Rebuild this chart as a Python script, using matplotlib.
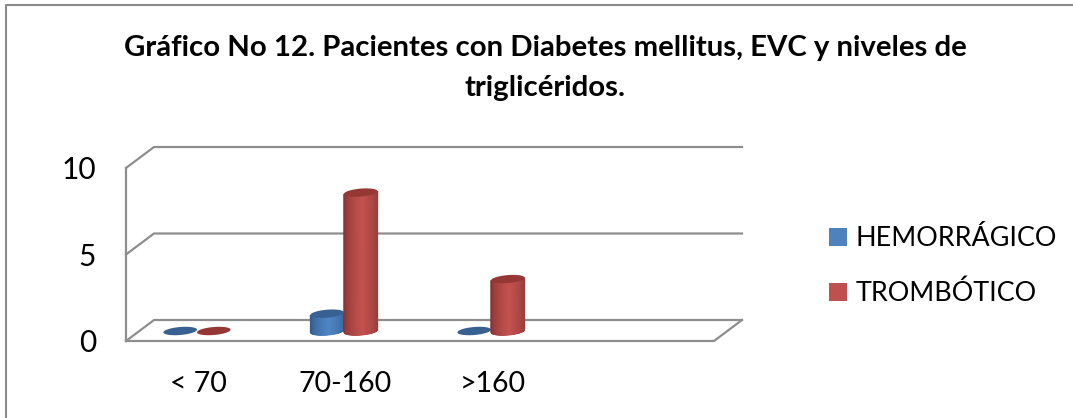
import numpy as np
import matplotlib
matplotlib.use("Agg")
import matplotlib.pyplot as plt
from matplotlib.colors import LinearSegmentedColormap
from matplotlib.patches import Rectangle

categories = ["< 70", "70-160", ">160"]
hemorragico = [0, 1, 0]
trombotico = [0, 8, 3]
n_slots = 4
y_ticks = [0, 5, 10]

title_lines = ["Gráfico No 12. Pacientes con Diabetes mellitus, EVC y niveles de", "triglicéridos."]

W, H = 1073, 418
plt.rcParams['font.family'] = ['Lato', 'DejaVu Sans']

grid_col = "#8e8e8e"
blue = "#4f86c6"
red = "#c4524f"
blue_dark, blue_cap = "#2d5480", "#386192"
red_dark, red_cap = "#7a302e", "#953735"

fig = plt.figure(figsize=(W / 100, H / 100), dpi=100)
fig.patch.set_facecolor("white")

# front plane of the 3d box, one slot per category
left, right, bottom, top = 126, 714, 341, 168
ax = fig.add_axes([left / W, 1 - bottom / H, (right - left) / W, (bottom - top) / H])
ax.set_xlim(0, n_slots)
ax.set_ylim(0, 10)
ax.axis("off")

px_x = n_slots / (right - left)
px_y = 10 / (bottom - top)
depth_x = 28 * px_x
depth_y = 21 * px_y


def line(xs, ys, lw=1.6):
    ax.plot(xs, ys, color=grid_col, lw=lw, clip_on=False, solid_capstyle="projecting", zorder=1)


# gridlines on back wall plus the side wall diagonals
for v in y_ticks:
    line([0, depth_x, n_slots + depth_x], [v, v + depth_y, v + depth_y])
line([0, 0], [0, 10])
line([0, n_slots, n_slots + depth_x], [0, 0, depth_y])

for v in y_ticks:
    ax.text(-30 * px_x, v - 11 * px_y, str(v), ha="right", va="baseline", fontsize=21.5,
            color="black", clip_on=False)

for i, c in enumerate(categories):
    ax.text(i + 0.5 - 1 * px_x, -51 * px_y, c, ha="center", va="baseline", fontsize=20.5, color="black", clip_on=False)

# cylinders
a = 16.8 * px_x
b = 4.0 * px_y
tilt = 0.08 * (px_y / px_x)
base = 10.0 * px_y
shift = -2.5 * px_x


def ellipse(cx, cy):
    t = np.linspace(0, 2 * np.pi, 80)
    ex = a * np.cos(t)
    return cx + ex, cy + b * np.sin(t) + tilt * ex


def cylinder(cx, value, col, dark, cap):
    y0 = base
    y1 = base + value
    ex, ey = ellipse(cx, y0)
    if value == 0:
        ax.fill(ex, ey, color=cap, lw=0, zorder=3, clip_on=False)
        return
    # side of the cylinder, dark at the edges and lit near the middle
    u = np.linspace(-1, 1, 61)
    low = -b * np.sqrt(1 - u ** 2) + tilt * a * u
    X = np.vstack([cx + a * u, cx + a * u])
    Y = np.vstack([y0 + low, y1 + low])
    w = np.clip(1 - np.abs(u - 0.1) / 1.1, 0, 1) ** 0.5
    cmap = LinearSegmentedColormap.from_list("side", [dark, col])
    ax.pcolormesh(X, Y, np.vstack([w, w]), cmap=cmap, vmin=0, vmax=1, shading="gouraud",
                  zorder=3, clip_on=False)
    tx, ty = ellipse(cx, y1)
    ax.fill(tx, ty, color=cap, lw=0, zorder=4, clip_on=False)


for i in range(len(categories)):
    cylinder(i + 0.5 + shift - a, hemorragico[i], blue, blue_dark, blue_cap)
    cylinder(i + 0.5 + shift + a, trombotico[i], red, red_dark, red_cap)
ax.set_xlim(0, n_slots)
ax.set_ylim(0, 10)

# legend
legend_names = ["HEMORRÁGICO", "TROMBÓTICO"]
legend_cols = ["#4f81bd", "#c0504d"]
for name, col, y in zip(legend_names, legend_cols, [246, 301]):
    fig.add_artist(Rectangle((829 / W, 1 - y / H), 18 / W, 18 / H, color=col, lw=0, transform=fig.transFigure))
    fig.text(856 / W, 1 - y / H, name, ha="left", va="baseline", fontsize=19.4, color="black")

for txt, y in zip(title_lines, [56, 96]):
    fig.text(545 / W, 1 - y / H, txt, ha="center", va="baseline", fontsize=21.2, fontweight="bold", color="black")

# chart area border, open on the right
fig.add_artist(plt.Line2D([6 / W, 6 / W, 1], [0, 1 - 5 / H, 1 - 5 / H], color="#8a8a8a", lw=1.5))

fig.savefig("out.png", dpi=100)
